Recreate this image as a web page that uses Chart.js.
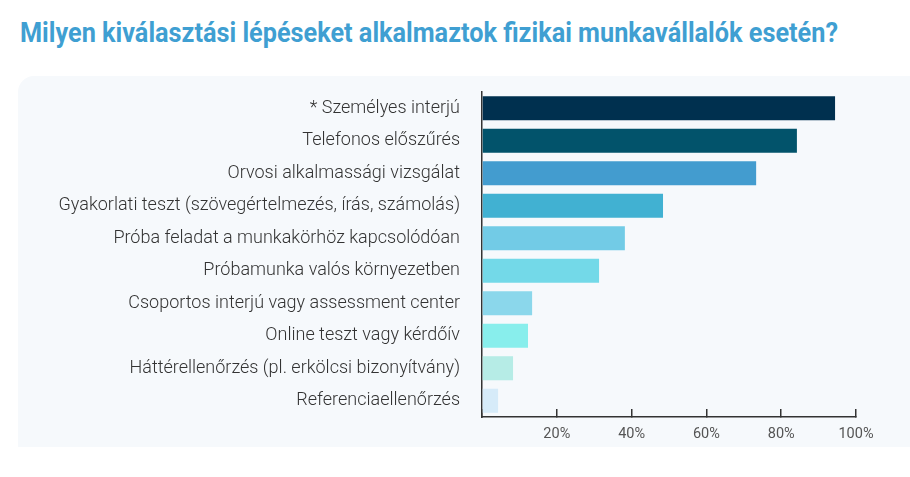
<!DOCTYPE html>
<html>
<head>
<meta charset="utf-8">
<script src="https://cdn.jsdelivr.net/npm/chart.js@4/dist/chart.umd.min.js"></script>
<style>
  html, body { margin: 0; padding: 0; background: #ffffff; }
  #wrap { position: relative; width: 910px; height: 477px; overflow: hidden; }
  #panel { position: absolute; left: 18px; top: 76px; width: 930px; height: 371px;
           background: #f6f9fc; border-top-left-radius: 16px; }
  #title { position: absolute; left: 20px; top: 16px; margin: 0; white-space: nowrap;
           font-family: Roboto, sans-serif; font-weight: 700; font-size: 28px;
           color: #3f9fd2; transform-origin: left top; line-height: 34px; }
  #cv { position: absolute; left: 0; top: 0; }
</style>
</head>
<body>
<div id="wrap">
  <div id="panel"></div>
  <h1 id="title">Milyen kiválasztási lépéseket alkalmaztok fizikai munkavállalók esetén?</h1>
  <canvas id="cv" width="910" height="477"></canvas>
</div>
<script>
const categories = [
  "* Személyes interjú",
  "Telefonos előszűrés",
  "Orvosi alkalmassági vizsgálat",
  "Gyakorlati teszt (szövegértelmezés, írás, számolás)",
  "Próba feladat a munkakörhöz kapcsolódóan",
  "Próbamunka valós környezetben",
  "Csoportos interjú vagy assessment center",
  "Online teszt vagy kérdőív",
  "Háttérellenőrzés (pl. erkölcsi bizonyítvány)",
  "Referenciaellenőrzés"
];
const values = [94.4, 84.2, 73.3, 48.4, 38.2, 31.3, 13.4, 12.3, 8.3, 4.3];
const barColors = ["#00304f", "#02536b", "#439ccf", "#41b1d2", "#72cbe6",
                   "#73d9e8", "#8bd7eb", "#88eeec", "#b6ece6", "#d6ebf9"];
const tickValues = [0, 20, 40, 60, 80, 100];

// fit title width
const t = document.getElementById('title');
t.style.transform = 'scaleX(' + (818 / t.offsetWidth) + ')';

new Chart(document.getElementById('cv'), {
  type: 'bar',
  data: {
    labels: categories,
    datasets: [{
      data: values,
      backgroundColor: barColors,
      borderWidth: 0,
      categoryPercentage: 0.74,
      barPercentage: 1.0
    }]
  },
  options: {
    indexAxis: 'y',
    responsive: false,
    animation: false,
    devicePixelRatio: 1,
    layout: { padding: { top: 92, right: 54, left: 0, bottom: 0 } },
    plugins: { legend: { display: false }, tooltip: { enabled: false } },
    scales: {
      x: {
        min: 0, max: 100,
        afterBuildTicks: (s) => { s.ticks = tickValues.map(v => ({ value: v })); },
        afterFit: (s) => { s.height = 60; },
        grid: { display: true, drawOnChartArea: false, drawTicks: true,
                tickLength: -8, color: '#333333', lineWidth: 1.5 },
        border: { display: true, color: '#333333', width: 1.5 },
        ticks: {
          padding: 17,
          color: '#555555',
          font: { family: 'Roboto', size: 14.5 },
          maxRotation: 0,
          callback: (v) => v === 0 ? '' : v + '%'
        }
      },
      y: {
        afterFit: (s) => { s.width = 482; },
        grid: { display: false, drawTicks: false },
        border: { display: true, color: '#333333', width: 1.5 },
        ticks: {
          padding: 22,
          color: '#333333',
          font: { family: 'Roboto', size: 18, weight: 300 }
        }
      }
    }
  }
});
</script>
</body>
</html>
